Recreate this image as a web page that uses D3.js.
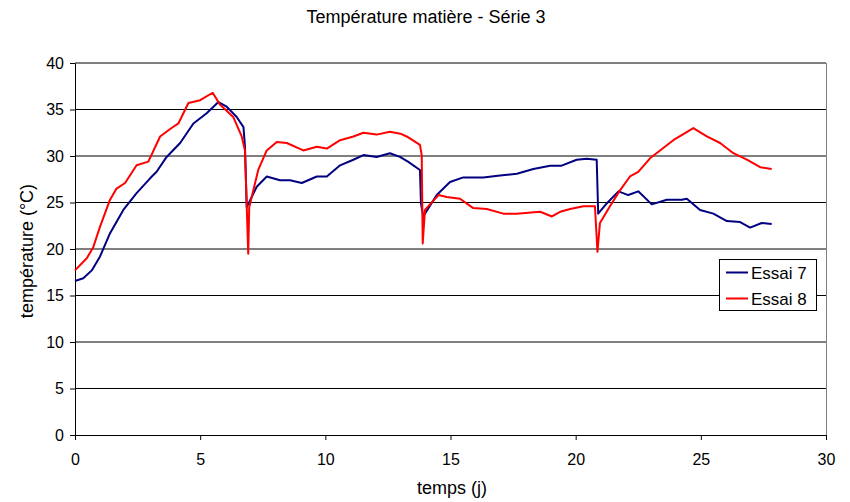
<!DOCTYPE html>
<html><head><meta charset="utf-8">
<script src="https://cdn.jsdelivr.net/npm/d3@7"></script>
<style>body{margin:0;background:#fff}svg{display:block;font-family:"Liberation Sans",Arial,sans-serif}</style>
</head><body><svg id="c" width="850" height="502"></svg>
<script>
const title = "Température matière - Série 3";
const xTitle = "temps (j)";
const yTitle = "température (°C)";
const seriesNames = ["Essai 7", "Essai 8"];
const seriesColors = ["#000080", "#FF0000"];
const xTicks = [0,5,10,15,20,25,30];
const yTicks = [0,5,10,15,20,25,30,35,40];

const t7 = [0,0.33,0.67,1.0,1.4,1.93,2.46,3.0,3.26,3.66,4.2,4.73,5.26,5.73,6.06,6.46,6.73,6.79,6.86,7.26,7.66,8.19,8.59,9.06,9.66,10.06,10.59,11.12,11.52,12.05,12.58,12.98,13.3,13.78,13.82,13.91,14.45,14.98,15.51,16.31,16.98,17.65,18.31,18.98,19.44,20.04,20.44,20.84,20.9,21.24,21.71,22.1,22.5,23.04,23.64,24.24,24.44,24.97,25.5,26.04,26.57,26.97,27.43,27.83];
const v7 = [16.56,16.85,17.7,19.2,21.7,24.2,26.0,27.6,28.3,29.9,31.4,33.5,34.6,35.8,35.3,34.2,33.1,31.0,24.5,26.7,27.8,27.4,27.4,27.1,27.8,27.8,29.0,29.6,30.1,29.9,30.3,29.9,29.4,28.5,24.9,23.5,25.8,27.2,27.7,27.7,27.9,28.1,28.6,28.96,28.96,29.6,29.7,29.6,23.8,24.9,26.2,25.8,26.2,24.8,25.3,25.3,25.4,24.2,23.8,23.0,22.9,22.3,22.8,22.7];
const t8 = [0,0.47,0.73,1.0,1.4,1.66,2.0,2.46,2.93,3.4,3.8,4.13,4.53,5.0,5.5,5.8,6.32,6.66,6.79,6.92,6.96,7.32,7.66,8.06,8.46,9.12,9.66,10.06,10.59,11.12,11.52,12.05,12.58,13.0,13.25,13.78,13.85,13.89,13.98,14.52,14.85,15.38,15.91,16.45,17.11,17.65,18.11,18.58,19.05,19.38,19.78,20.31,20.77,20.87,20.97,21.37,21.77,22.17,22.5,22.97,23.37,23.9,24.7,25.24,25.77,26.3,26.84,27.37,27.83];
const v8 = [17.7,19.0,20.2,22.4,25.3,26.5,27.1,29.0,29.4,32.1,32.9,33.5,35.7,36.0,36.8,35.5,34.2,32.1,30.6,19.5,24.5,28.5,30.6,31.5,31.4,30.6,31.0,30.8,31.7,32.1,32.5,32.3,32.6,32.4,32.1,31.2,30.1,20.6,24.2,25.8,25.6,25.4,24.4,24.3,23.8,23.8,23.9,24.0,23.5,24.0,24.3,24.6,24.6,19.7,22.8,24.6,26.3,27.8,28.3,29.75,30.6,31.7,33.0,32.1,31.4,30.3,29.6,28.8,28.6];

const svg = d3.select("#c");
const L = 75, R = 826, T = 63, B = 435;
const x = d3.scaleLinear().domain([0,30]).range([L,R]);
const y = d3.scaleLinear().domain([0,40]).range([B,T]);

// gridlines
svg.append("g").selectAll("line").data(yTicks.filter(d=>d>0)).join("line")
  .attr("x1",L).attr("x2",R).attr("y1",d=>y(d)).attr("y2",d=>y(d))
  .attr("stroke","#000").attr("stroke-width",1);
// right border
svg.append("line").attr("x1",R+0.5).attr("x2",R+0.5).attr("y1",T).attr("y2",B)
  .attr("stroke","#808080").attr("stroke-width",1);

// axes
const xa = svg.append("g").attr("transform",`translate(0,${B})`)
  .call(d3.axisBottom(x).tickValues(xTicks).tickSize(5).tickSizeOuter(0).tickPadding(14));
const ya = svg.append("g").attr("transform",`translate(${L},0)`)
  .call(d3.axisLeft(y).tickValues(yTicks).tickSize(5).tickSizeOuter(0).tickPadding(6));
[xa,ya].forEach(a=>{
  a.selectAll("path,line").attr("stroke","#000");
  a.selectAll("text").attr("font-size",16).attr("fill","#000").attr("font-family","'Liberation Sans',Arial,sans-serif");
});

// lines
const series = [t7.map((t,i)=>[t,v7[i]]), t8.map((t,i)=>[t,v8[i]])];
const line = d3.line().x(d=>x(d[0])).y(d=>y(d[1]));
series.forEach((s,i)=>{
  svg.append("path").datum(s).attr("d",line).attr("fill","none")
    .attr("stroke",seriesColors[i]).attr("stroke-width",2).attr("stroke-linejoin","round");
});

// titles
svg.append("text").attr("x",426).attr("y",23).attr("text-anchor","middle")
  .attr("font-size",18).text(title);
svg.append("text").attr("x",452).attr("y",494).attr("text-anchor","middle")
  .attr("font-size",18).text(xTitle);
svg.append("text").attr("transform","translate(33,251) rotate(-90)").attr("text-anchor","middle")
  .attr("font-size",18).text(yTitle);

// legend
const lg = svg.append("g");
lg.append("rect").attr("x",719.5).attr("y",259.5).attr("width",97).attr("height",51)
  .attr("fill","#fff").attr("stroke","#000").attr("stroke-width",1);
seriesNames.forEach((n,i)=>{
  const yy = 272.5 + i*26;
  lg.append("line").attr("x1",726).attr("x2",748).attr("y1",yy).attr("y2",yy)
    .attr("stroke",seriesColors[i]).attr("stroke-width",2);
  lg.append("text").attr("x",751).attr("y",yy+6).attr("font-size",17).text(n);
});
</script></body></html>
